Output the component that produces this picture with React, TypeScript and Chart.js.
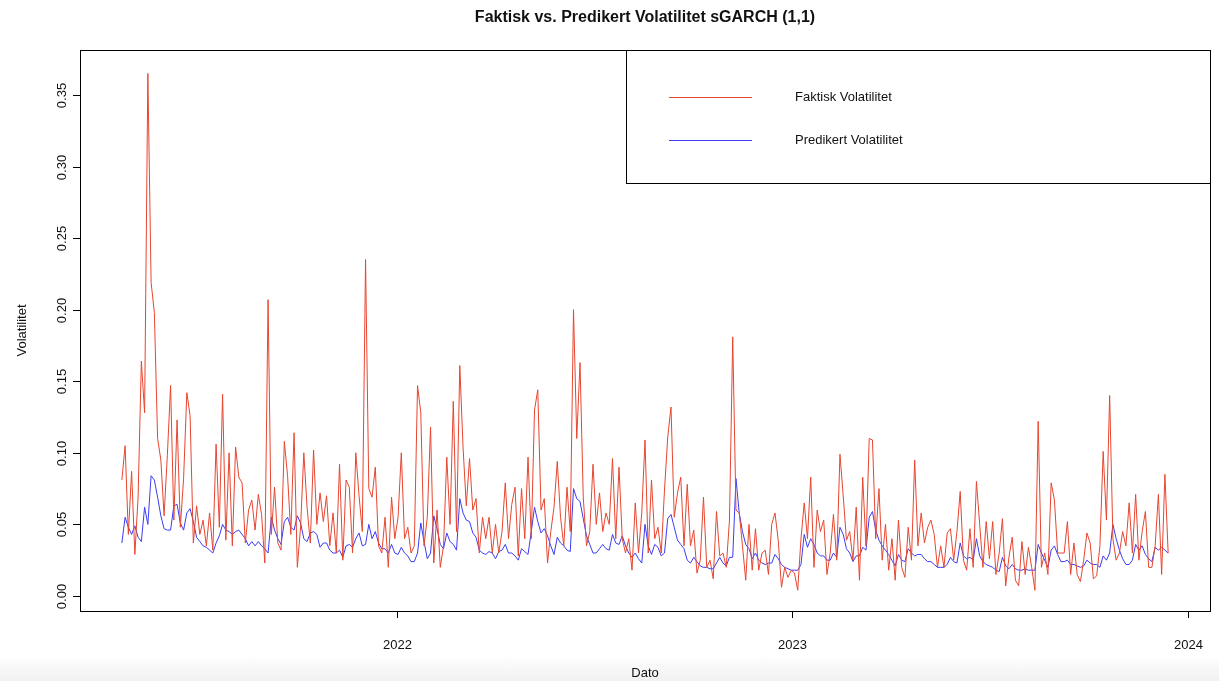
import React, { useEffect, useRef } from 'react';
import { Chart, registerables } from 'chart.js';

Chart.register(...registerables);

// ---- data (one value every STEP_DAYS days, starting at START_DATE) ----
const START_DATE = '2021-04-22';
const STEP_DAYS = 3;

const faktiskVolatilitet = [
  0.081, 0.105, 0.043, 0.087, 0.029, 0.069, 0.164, 0.128, 0.365, 0.219,
  0.198, 0.11, 0.095, 0.056, 0.098, 0.147, 0.053, 0.123, 0.048, 0.082,
  0.142, 0.126, 0.037, 0.063, 0.043, 0.053, 0.035, 0.058, 0.032, 0.106,
  0.048, 0.141, 0.039, 0.1, 0.035, 0.104, 0.083, 0.079, 0.037, 0.06,
  0.067, 0.046, 0.071, 0.057, 0.023, 0.207, 0.043, 0.076, 0.037, 0.032,
  0.108, 0.084, 0.043, 0.114, 0.02, 0.048, 0.1, 0.062, 0.037, 0.102,
  0.05, 0.072, 0.052, 0.07, 0.035, 0.058, 0.03, 0.092, 0.025, 0.081,
  0.076, 0.03, 0.1, 0.07, 0.045, 0.235, 0.075, 0.069, 0.09, 0.035,
  0.03, 0.055, 0.02, 0.069, 0.04, 0.055, 0.1, 0.04, 0.048, 0.03,
  0.035, 0.147, 0.128, 0.035, 0.055, 0.118, 0.023, 0.06, 0.02, 0.035,
  0.097, 0.05, 0.136, 0.045, 0.161, 0.104, 0.063, 0.096, 0.06, 0.068,
  0.03, 0.055, 0.04, 0.055, 0.03, 0.05, 0.03, 0.045, 0.079, 0.04,
  0.064, 0.076, 0.028, 0.075, 0.04, 0.097, 0.04, 0.13, 0.144, 0.06,
  0.068, 0.023, 0.045, 0.062, 0.094, 0.055, 0.035, 0.076, 0.045, 0.2,
  0.11, 0.163, 0.069, 0.035, 0.045, 0.092, 0.05, 0.072, 0.045, 0.058,
  0.05, 0.096, 0.04, 0.09, 0.04, 0.03, 0.04, 0.018, 0.065, 0.03,
  0.058, 0.109, 0.03, 0.081, 0.04, 0.048, 0.03, 0.074, 0.111, 0.132,
  0.055, 0.072, 0.083, 0.035, 0.078, 0.035, 0.046, 0.016, 0.025, 0.069,
  0.02, 0.025, 0.012, 0.059, 0.028, 0.03, 0.02, 0.053, 0.181, 0.06,
  0.058, 0.035, 0.011, 0.05, 0.018, 0.047, 0.018, 0.03, 0.032, 0.015,
  0.05, 0.058, 0.039, 0.006, 0.02, 0.013, 0.018, 0.016, 0.004, 0.04,
  0.065, 0.04, 0.083, 0.02, 0.06, 0.045, 0.053, 0.015, 0.03, 0.057,
  0.025, 0.099, 0.07, 0.039, 0.045, 0.025, 0.062, 0.011, 0.083, 0.035,
  0.11, 0.109, 0.04, 0.075, 0.025, 0.05, 0.018, 0.04, 0.011, 0.053,
  0.02, 0.013, 0.048, 0.025, 0.095, 0.035, 0.058, 0.037, 0.048, 0.053,
  0.043, 0.02, 0.035, 0.02, 0.044, 0.047, 0.025, 0.045, 0.073, 0.025,
  0.018, 0.047, 0.02, 0.08, 0.05, 0.02, 0.052, 0.026, 0.052, 0.015,
  0.03, 0.054, 0.007, 0.027, 0.041, 0.011, 0.007, 0.038, 0.015, 0.034,
  0.02, 0.004, 0.122, 0.02, 0.03, 0.015, 0.079, 0.067, 0.03, 0.03,
  0.03, 0.052, 0.015, 0.037, 0.015, 0.01, 0.025, 0.044, 0.037, 0.012,
  0.014, 0.035, 0.101, 0.053, 0.14, 0.04, 0.025, 0.03, 0.045, 0.035,
  0.065, 0.03, 0.071, 0.025, 0.045, 0.059, 0.02, 0.02, 0.035, 0.071,
  0.015, 0.085, 0.03,
];

const predikertVolatilitet = [
  0.037, 0.055, 0.048, 0.043, 0.049, 0.041, 0.038, 0.062, 0.05, 0.084,
  0.081, 0.069, 0.056, 0.047, 0.046, 0.046, 0.063, 0.064, 0.051, 0.046,
  0.058, 0.061, 0.052, 0.041, 0.038, 0.035, 0.034, 0.032, 0.03, 0.037,
  0.042, 0.05, 0.046, 0.045, 0.043, 0.045, 0.046, 0.043, 0.04, 0.035,
  0.038, 0.035, 0.038, 0.035, 0.033, 0.03, 0.055, 0.046, 0.04, 0.036,
  0.052, 0.055, 0.048, 0.046, 0.056, 0.051, 0.04, 0.038, 0.044, 0.045,
  0.043, 0.034, 0.037, 0.037, 0.032, 0.03, 0.03, 0.032, 0.027, 0.035,
  0.036, 0.034, 0.04, 0.044, 0.035, 0.036, 0.05, 0.04, 0.045, 0.037,
  0.033, 0.033, 0.03, 0.036, 0.03, 0.029, 0.034, 0.03, 0.028, 0.024,
  0.024, 0.03, 0.051, 0.038, 0.026, 0.03, 0.056, 0.047, 0.036, 0.033,
  0.044, 0.038, 0.036, 0.032, 0.068, 0.058, 0.053, 0.052, 0.044, 0.041,
  0.032, 0.03, 0.029, 0.031, 0.03, 0.026, 0.031, 0.032, 0.036, 0.03,
  0.03, 0.028, 0.025, 0.033, 0.031, 0.029, 0.045, 0.062, 0.052, 0.044,
  0.047, 0.042, 0.035, 0.029, 0.041, 0.037, 0.035, 0.032, 0.031, 0.075,
  0.068, 0.066, 0.054, 0.042, 0.036, 0.03, 0.03, 0.033, 0.036, 0.033,
  0.032, 0.043, 0.037, 0.036, 0.042, 0.035, 0.03, 0.027, 0.03, 0.026,
  0.023, 0.05, 0.035, 0.029, 0.036, 0.034, 0.028, 0.03, 0.054, 0.057,
  0.048, 0.039, 0.036, 0.033, 0.025, 0.023, 0.027, 0.024, 0.021, 0.02,
  0.02, 0.019, 0.019, 0.023, 0.027, 0.023, 0.021, 0.027, 0.027, 0.082,
  0.058, 0.045, 0.036, 0.033, 0.026, 0.03, 0.025, 0.023, 0.022, 0.023,
  0.023, 0.029, 0.026, 0.022, 0.02, 0.019, 0.018, 0.018, 0.018, 0.022,
  0.043, 0.034, 0.04, 0.036, 0.03, 0.028, 0.028, 0.025, 0.025, 0.03,
  0.027, 0.048, 0.043, 0.033, 0.03, 0.024, 0.028, 0.028, 0.034, 0.032,
  0.055, 0.059, 0.046, 0.039, 0.035, 0.032, 0.029, 0.025, 0.021, 0.029,
  0.025, 0.024, 0.033, 0.03, 0.028, 0.029, 0.029, 0.026, 0.024, 0.024,
  0.022, 0.02, 0.02, 0.02, 0.022, 0.027, 0.024, 0.023, 0.037, 0.028,
  0.026, 0.027, 0.025, 0.04, 0.028, 0.024, 0.022, 0.021, 0.02, 0.018,
  0.017, 0.027, 0.021, 0.019, 0.022, 0.019, 0.018, 0.018, 0.019, 0.018,
  0.018, 0.018, 0.036, 0.03, 0.025, 0.02, 0.032, 0.035, 0.029, 0.024,
  0.024, 0.025, 0.022, 0.022, 0.021, 0.02, 0.021, 0.025, 0.023, 0.022,
  0.022, 0.02, 0.028, 0.025, 0.03, 0.05, 0.04, 0.032, 0.026, 0.022,
  0.022, 0.025, 0.036, 0.032, 0.035, 0.029, 0.026, 0.024, 0.034, 0.032,
  0.034, 0.032, 0.03,
];

const yTickValues = [0, 0.05, 0.1, 0.15, 0.2, 0.25, 0.3, 0.35];
const yTickLabels = ['0.00', '0.05', '0.10', '0.15', '0.20', '0.25', '0.30', '0.35'];
const xTickYears = ['2022', '2023', '2024'];

const TITLE = 'Faktisk vs. Predikert Volatilitet sGARCH (1,1)';
const X_TITLE = 'Dato';
const Y_TITLE = 'Volatilitet';
const SERIES_NAMES = ['Faktisk Volatilitet', 'Predikert Volatilitet'];
const RED = '#E8452F';
const BLUE = '#3C3CF2';
const FONT = '"Liberation Sans", Arial, Helvetica, sans-serif';

const DAY_MS = 86400000;
const startMs = Date.parse(START_DATE + 'T00:00:00Z');
const dayOf = (iso: string) => Math.round((Date.parse(iso + 'T00:00:00Z') - startMs) / DAY_MS);
const lastDay = (faktiskVolatilitet.length - 1) * STEP_DAYS;
const xPad = lastDay * 0.04;

const decorations = {
  id: 'rDecorations',
  afterDraw(chart: any) {
    const { ctx, chartArea, scales } = chart;
    const { left, right, top, bottom } = chartArea;
    const xs = scales.x;
    const ys = scales.y;
    ctx.save();
    ctx.strokeStyle = '#000';
    ctx.fillStyle = '#111';
    ctx.lineWidth = 1;
    // frame
    ctx.strokeRect(Math.round(left) + 0.5, Math.round(top) + 0.5, Math.round(right - left), Math.round(bottom - top));
    // y ticks + rotated labels
    ctx.font = `13px ${FONT}`;
    yTickValues.forEach((v, i) => {
      const py = Math.round(ys.getPixelForValue(v)) + 0.5;
      ctx.beginPath();
      ctx.moveTo(left - 7, py);
      ctx.lineTo(left, py);
      ctx.stroke();
      ctx.save();
      ctx.translate(left - 18, py);
      ctx.rotate(-Math.PI / 2);
      ctx.textAlign = 'center';
      ctx.textBaseline = 'middle';
      ctx.fillText(yTickLabels[i], 0, 0);
      ctx.restore();
    });
    // x ticks
    xTickYears.forEach((yr) => {
      const px = Math.round(xs.getPixelForValue(dayOf(yr + '-01-01'))) + 0.5;
      ctx.beginPath();
      ctx.moveTo(px, bottom);
      ctx.lineTo(px, bottom + 7);
      ctx.stroke();
      ctx.textAlign = 'center';
      ctx.textBaseline = 'middle';
      ctx.fillText(yr, px, bottom + 34);
    });
    // axis titles
    const cx = (left + right) / 2;
    ctx.textAlign = 'center';
    ctx.textBaseline = 'middle';
    ctx.fillText(X_TITLE, cx, bottom + 62);
    ctx.save();
    ctx.translate(22, (top + bottom) / 2);
    ctx.rotate(-Math.PI / 2);
    ctx.fillText(Y_TITLE, 0, 0);
    ctx.restore();
    // title
    ctx.font = `bold 16px ${FONT}`;
    ctx.fillText(TITLE, cx, 18);
    // legend
    const lx = 626, ly = top, lw = right - 626, lh = 133;
    ctx.strokeRect(lx + 0.5, Math.round(ly) + 0.5, lw, lh);
    ctx.font = `13px ${FONT}`;
    ctx.textAlign = 'left';
    [RED, BLUE].forEach((c, i) => {
      const yy = ly + 47 + i * 43;
      ctx.strokeStyle = c;
      ctx.beginPath();
      ctx.moveTo(669, yy + 0.5);
      ctx.lineTo(752, yy + 0.5);
      ctx.stroke();
      ctx.fillText(SERIES_NAMES[i], 795, yy);
    });
    ctx.restore();
  },
};

export default function App() {
  const ref = useRef<HTMLCanvasElement | null>(null);
  useEffect(() => {
    if (!ref.current) return;
    const chart = new Chart(ref.current, {
      type: 'line',
      data: {
        datasets: [
          {
            label: SERIES_NAMES[0],
            data: faktiskVolatilitet.map((v, i) => ({ x: i * STEP_DAYS, y: v })),
            borderColor: RED,
            borderWidth: 1,
            pointRadius: 0,
            tension: 0,
            fill: false,
          },
          {
            label: SERIES_NAMES[1],
            data: predikertVolatilitet.map((v, i) => ({ x: i * STEP_DAYS, y: v })),
            borderColor: BLUE,
            borderWidth: 1,
            pointRadius: 0,
            tension: 0,
            fill: false,
          },
        ],
      },
      options: {
        animation: false,
        responsive: false,
        devicePixelRatio: 1,
        parsing: false,
        normalized: true,
        layout: { padding: { left: 80, top: 50, right: 9, bottom: 70 } },
        scales: {
          x: { type: 'linear', display: false, min: -xPad, max: lastDay + xPad },
          y: { type: 'linear', display: false, min: -0.0105, max: 0.3814 },
        },
        plugins: {
          legend: { display: false },
          tooltip: { enabled: false },
          title: { display: false },
        },
      },
      plugins: [decorations],
    });
    return () => chart.destroy();
  }, []);
  return (
    <div
      style={{
        position: 'absolute',
        left: 0,
        top: 0,
        width: 1219,
        height: 681,
        background: 'linear-gradient(to bottom, #ffffff 0px, #ffffff 655px, #f1f1f1 681px)',
      }}
    >
      <canvas ref={ref} width={1219} height={681} />
    </div>
  );
}
